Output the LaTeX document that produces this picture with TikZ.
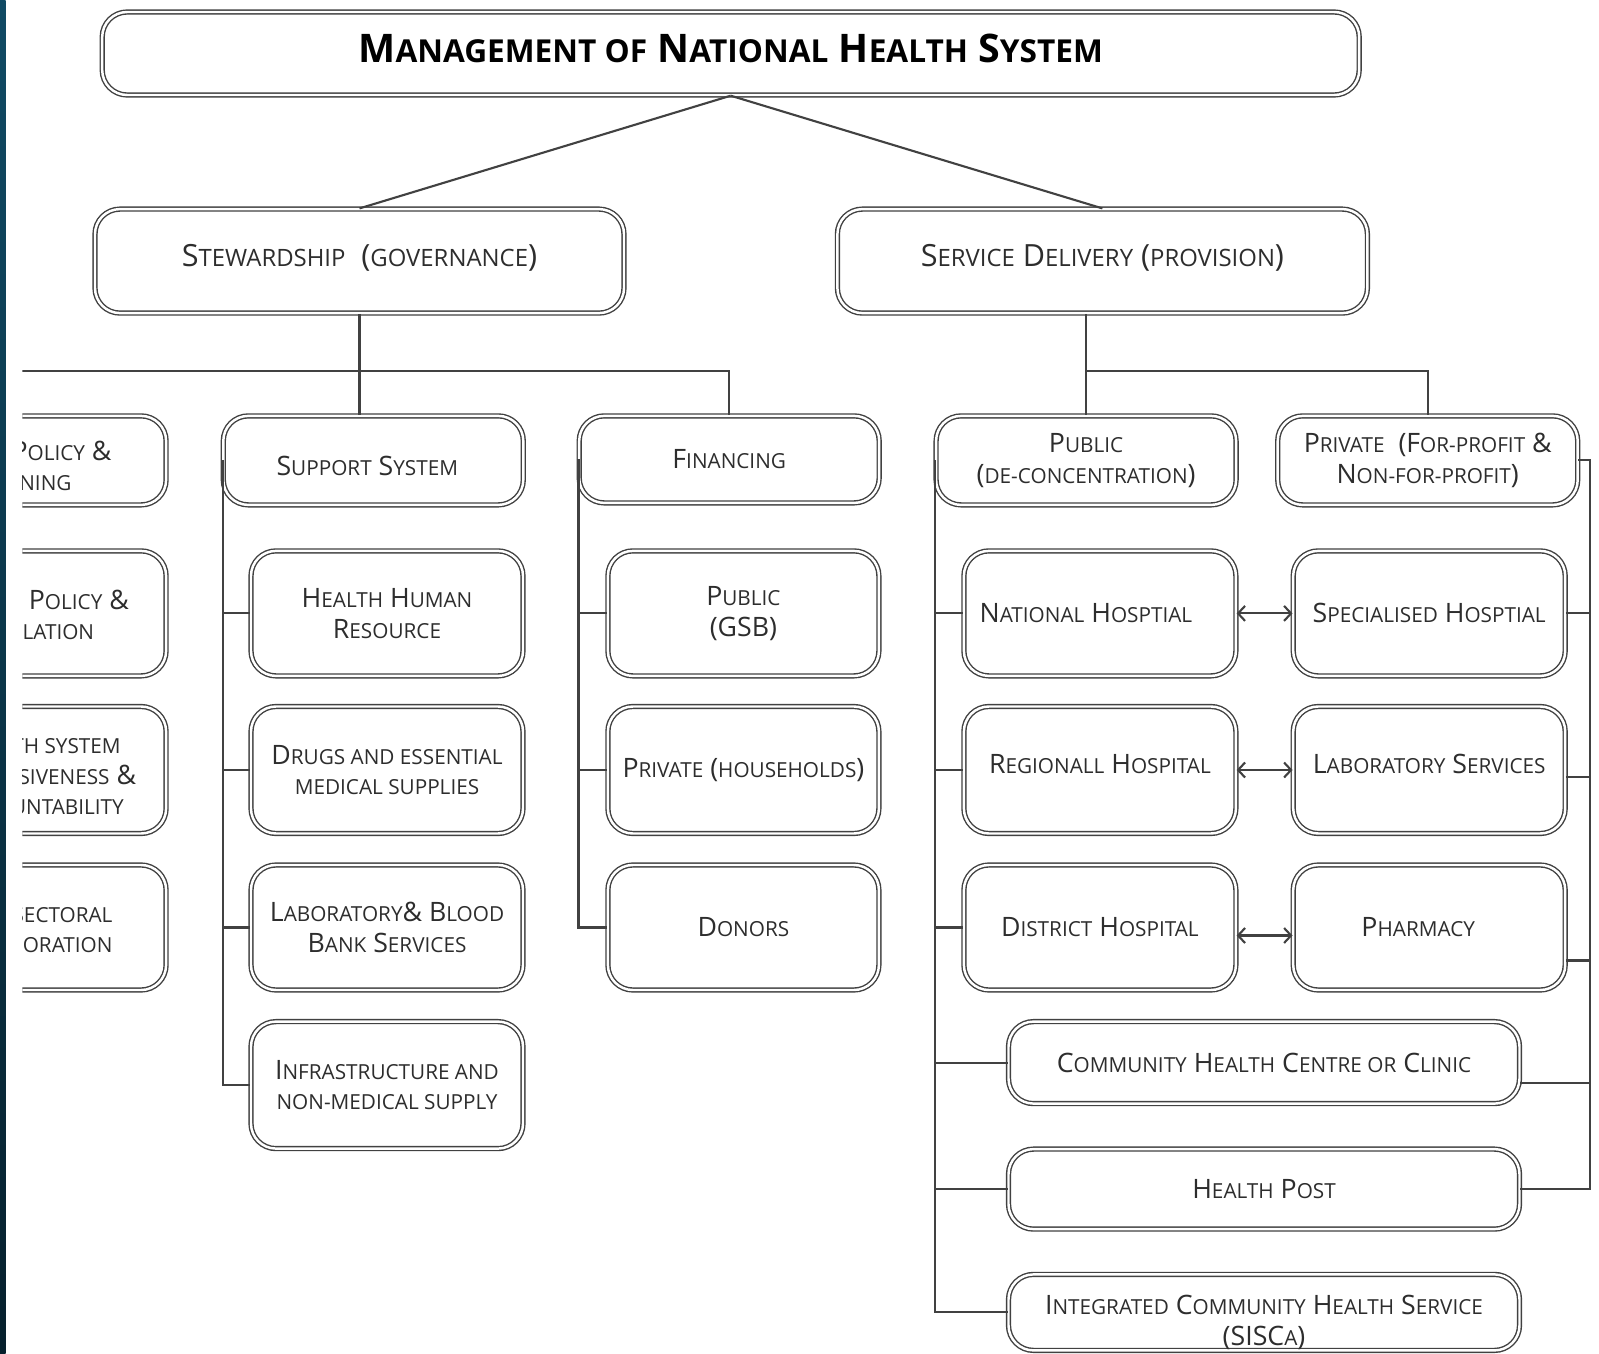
\documentclass[tikz,border=0pt]{standalone}
\usepackage{fontspec}
\setmainfont{Open Sans}
\usetikzlibrary{positioning,calc,arrows.meta}
\definecolor{linegray}{RGB}{65,65,65}
\definecolor{textgray}{RGB}{45,45,45}
\definecolor{stripetop}{RGB}{16,74,100}
\definecolor{stripebot}{RGB}{6,32,45}
\newcommand{\sm}[1]{{\fontsize{5.9}{8.7}\selectfont #1}}
\newcommand{\smbig}[1]{{\fontsize{6.8}{10}\selectfont #1}}
\newcommand{\smtitle}[1]{{\fontsize{9.0}{11}\selectfont #1}}
% move the ink of a line without changing the box
\newcommand{\lift}[2]{\raisebox{#1}[\height][\depth]{#2}}

\begin{document}
\begin{tikzpicture}[
  box/.style={draw=linegray, double=white, double distance=0.7pt, line width=0.4pt,
    rounded corners=0.25cm, align=center, text=textgray, inner sep=1pt,
    font=\fontsize{7.6}{8.7}\selectfont},
  bigbox/.style={box, font=\fontsize{8.7}{10}\selectfont},
  titlebox/.style={box, text=black, font=\fontsize{11.2}{13}\selectfont\bfseries},
  cuttext/.style={anchor=east, align=right, text=textgray, inner sep=0pt,
    font=\fontsize{7.6}{8.7}\selectfont},
  link/.style={draw=linegray, line width=0.6pt},
  >={Straight Barb[length=0.07cm, width=0.15cm]}
]
\useasboundingbox (0,0) rectangle (15.99,-13.54);
\fill[white] (0,0) rectangle (15.99,-13.54);
\shade[top color=stripetop, bottom color=stripebot] (0,0) rectangle (0.057,-13.54);

\begin{scope}
\clip (0.224,0) rectangle (15.99,-13.54);

% top levels
\node[titlebox, minimum width=12.57cm, minimum height=0.83cm] (title) at (7.307,-0.535)
  {\lift{0.05cm}{M\smtitle{ANAGEMENT OF} N\smtitle{ATIONAL} H\smtitle{EALTH} S\smtitle{YSTEM}}};
\node[bigbox, minimum width=5.29cm, minimum height=1.04cm] (stew) at (3.595,-2.611)
  {\lift{0.03cm}{S\smbig{TEWARDSHIP}\ \ (\smbig{GOVERNANCE})}};
\node[bigbox, minimum width=5.30cm, minimum height=1.04cm] (sd) at (11.024,-2.611)
  {\lift{0.03cm}{S\smbig{ERVICE} D\smbig{ELIVERY} (\smbig{PROVISION})}};

% second level
\node[box, minimum width=3.00cm, minimum height=0.89cm] (sup) at (3.733,-4.604)
  {\hspace*{-0.12cm}\lift{-0.06cm}{S\sm{UPPORT} S\sm{YSTEM}}};
\node[box, minimum width=3.00cm, minimum height=0.87cm] (fin) at (7.292,-4.594)
  {F\sm{INANCING}};
\node[box, minimum width=3.00cm, minimum height=0.89cm] (pub) at (10.861,-4.604)
  {P\sm{UBLIC}\\(\sm{DE-CONCENTRATION})};
\node[box, minimum width=3.00cm, minimum height=0.89cm] (priv) at (14.277,-4.604)
  {P\sm{RIVATE}\ \ (F\sm{OR-PROFIT} \&\\N\sm{ON-FOR-PROFIT})};

% column cut by the left edge
\node[box, minimum width=2.96cm, minimum height=0.89cm] (lpol) at (0.181,-4.604) {};
\node[box, minimum width=2.96cm, minimum height=1.25cm] (lreg) at (0.181,-6.134) {};
\node[box, minimum width=2.96cm, minimum height=1.27cm] (lresp) at (0.181,-7.700) {};
\node[box, minimum width=2.96cm, minimum height=1.25cm] (lcol) at (0.181,-9.275) {};
\node[cuttext] (lpoltext) at (1.122,-4.66) {P\sm{OLICY} \&\\\sm{NING}\hspace*{0.40cm}};
\node[cuttext] (lregtext) at (1.295,-6.15) {P\sm{OLICY} \&\\\sm{ULATION}\hspace*{0.347cm}};
\node[cuttext] (lresptext) at (1.367,-7.77) {\sm{TH SYSTEM}\hspace*{0.153cm}\\\sm{SIVENESS} \&\\\sm{UNTABILITY}\hspace*{0.122cm}};
\node[cuttext] (lcoltext) at (1.132,-9.30) {\sm{SECTORAL}\\\sm{BORATION}};

% support system
\node[box, minimum width=2.72cm, minimum height=1.25cm] (hhr) at (3.870,-6.134)
  {H\sm{EALTH} H\sm{UMAN}\\R\sm{ESOURCE}};
\node[box, minimum width=2.72cm, minimum height=1.27cm] (drugs) at (3.870,-7.700)
  {D\sm{RUGS AND ESSENTIAL}\\\sm{MEDICAL SUPPLIES}};
\node[box, minimum width=2.72cm, minimum height=1.25cm] (lab) at (3.870,-9.275)
  {L\sm{ABORATORY}\& B\sm{LOOD}\\B\sm{ANK} S\sm{ERVICES}};
\node[box, minimum width=2.72cm, minimum height=1.27cm] (infra) at (3.870,-10.851)
  {I\sm{NFRASTRUCTURE AND}\\\sm{NON-MEDICAL SUPPLY}};

% financing
\node[box, minimum width=2.71cm, minimum height=1.25cm] (gsb) at (7.434,-6.134)
  {P\sm{UBLIC}\\(GSB)};
\node[box, minimum width=2.71cm, minimum height=1.27cm] (hh) at (7.434,-7.700)
  {P\sm{RIVATE} (\sm{HOUSEHOLDS})};
\node[box, minimum width=2.71cm, minimum height=1.25cm] (donors) at (7.434,-9.275)
  {D\sm{ONORS}};

% public providers
\node[box, minimum width=2.72cm, minimum height=1.25cm] (nat) at (10.999,-6.134)
  {\hspace*{-0.28cm}N\sm{ATIONAL} H\sm{OSPTIAL}};
\node[box, minimum width=2.72cm, minimum height=1.27cm] (reg) at (10.999,-7.700)
  {\lift{0.06cm}{R\sm{EGIONALL} H\sm{OSPITAL}}};
\node[box, minimum width=2.72cm, minimum height=1.25cm] (dist) at (10.999,-9.275)
  {D\sm{ISTRICT} H\sm{OSPITAL}};
\node[box, minimum width=5.11cm, minimum height=0.82cm] (chc) at (12.640,-10.626)
  {C\sm{OMMUNITY} H\sm{EALTH} C\sm{ENTRE OR} C\sm{LINIC}};
\node[box, minimum width=5.11cm, minimum height=0.80cm] (hp) at (12.640,-11.891)
  {H\sm{EALTH} P\sm{OST}};
\node[box, minimum width=5.11cm, minimum height=0.76cm] (sisca) at (12.640,-13.124)
  {\lift{-0.1cm}{I\sm{NTEGRATED} C\sm{OMMUNITY} H\sm{EALTH} S\sm{ERVICE}}\\\lift{-0.1cm}{(SISC\sm{A})}};

% private providers
\node[box, minimum width=2.72cm, minimum height=1.25cm] (spec) at (14.292,-6.134)
  {S\sm{PECIALISED} H\sm{OSPTIAL}};
\node[box, minimum width=2.72cm, minimum height=1.27cm] (labs) at (14.292,-7.700)
  {\lift{0.06cm}{L\sm{ABORATORY} S\sm{ERVICES}}};
\node[box, minimum width=2.72cm, minimum height=1.25cm] (pharm) at (14.292,-9.275)
  {\hspace*{-0.22cm}P\sm{HARMACY}};

% connectors
\coordinate (lbus) at (-1,-3.712);
\coordinate (rtrunk) at (15.898,0);
\draw[link] (title.south) -- (stew.north);
\draw[link] (title.south) -- (sd.north);
\draw[link] (stew.south) -- (stew.south |- sup.north);
\draw[link] (lbus) -| (fin.north);
\draw[link] (pub.north |- sd.south) -- (pub.north);
\draw[link] (pub.north |- lbus) -| (priv.north);

\draw[link] (sup.west) |- (infra.west);
\draw[link] (sup.west |- hhr.west) -- (hhr.west);
\draw[link] (sup.west |- drugs.west) -- (drugs.west);
\draw[link] (sup.west |- lab.west) -- (lab.west);

\draw[link] (fin.west) |- (donors.west);
\draw[link] (fin.west |- gsb.west) -- (gsb.west);
\draw[link] (fin.west |- hh.west) -- (hh.west);

\draw[link] (pub.west) |- (sisca.west);
\draw[link] (pub.west |- nat.west) -- (nat.west);
\draw[link] (pub.west |- reg.west) -- (reg.west);
\draw[link] (pub.west |- dist.west) -- (dist.west);
\draw[link] (pub.west |- chc.west) -- (chc.west);
\draw[link] (pub.west |- hp.west) -- (hp.west);

\coordinate (labsr) at ([yshift=-0.07cm]labs.east);
\coordinate (pharmr) at ([yshift=-0.33cm]pharm.east);
\coordinate (chcr) at ([yshift=-0.20cm]chc.east);
\draw[link] (priv.east) -| (rtrunk |- hp.east) -- (hp.east);
\draw[link] (spec.east) -- (rtrunk |- spec.east);
\draw[link] (labsr) -- (rtrunk |- labsr);
\draw[link] (pharmr) -- (rtrunk |- pharmr);
\draw[link] (chcr) -- (rtrunk |- chcr);

\draw[link, <->] (nat) -- (spec);
\draw[link, <->] (reg) -- (labs);
\draw[link, <->] ([yshift=-0.08cm]dist.east) -- ([yshift=-0.08cm]pharm.west);
\end{scope}
\end{tikzpicture}
\end{document}
